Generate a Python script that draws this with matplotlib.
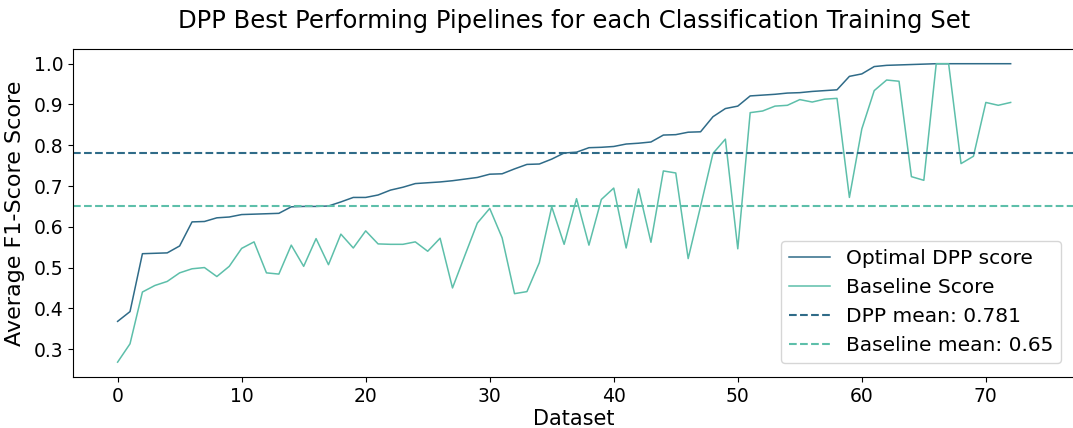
import matplotlib.pyplot as plt
import numpy as np

# Average F1 per classification training set, sorted by DPP score
datasets = np.arange(73)
dpp_scores = [
    0.368, 0.392, 0.534, 0.535, 0.536, 0.553, 0.612, 0.613, 0.622, 0.624,
    0.630, 0.631, 0.632, 0.633, 0.649, 0.650, 0.650, 0.651, 0.661, 0.672,
    0.672, 0.678, 0.690, 0.697, 0.706, 0.708, 0.710, 0.713, 0.717, 0.721,
    0.729, 0.730, 0.742, 0.753, 0.754, 0.766, 0.781, 0.783, 0.794, 0.795,
    0.797, 0.803, 0.805, 0.808, 0.825, 0.826, 0.832, 0.833, 0.870, 0.890,
    0.896, 0.921, 0.923, 0.925, 0.928, 0.929, 0.932, 0.934, 0.936, 0.969,
    0.975, 0.993, 0.996, 0.997, 0.998, 0.999, 1.0, 1.0, 1.0, 1.0,
    1.0, 1.0, 1.0,
]
baseline_scores = [
    0.268, 0.313, 0.440, 0.456, 0.466, 0.487, 0.497, 0.500, 0.478, 0.503,
    0.547, 0.563, 0.487, 0.484, 0.555, 0.503, 0.571, 0.507, 0.582, 0.548,
    0.590, 0.558, 0.557, 0.557, 0.563, 0.540, 0.572, 0.450, 0.530, 0.609,
    0.645, 0.573, 0.436, 0.441, 0.512, 0.649, 0.557, 0.669, 0.555, 0.667,
    0.695, 0.548, 0.693, 0.562, 0.737, 0.732, 0.522, 0.650, 0.780, 0.815,
    0.546, 0.880, 0.884, 0.896, 0.898, 0.912, 0.906, 0.913, 0.915, 0.672,
    0.840, 0.934, 0.960, 0.957, 0.723, 0.714, 1.0, 1.0, 0.755, 0.773,
    0.905, 0.898, 0.905,
]
dpp_mean = 0.781
baseline_mean = 0.65
y_ticks = [0.3, 0.4, 0.5, 0.6, 0.7, 0.8, 0.9, 1.0]

dark = '#2f6b88'
light = '#5dbfaa'

fig = plt.figure(figsize=(10.73, 4.28), dpi=100)
ax = fig.add_axes([0.068, 0.119, 0.934, 0.767])

ax.plot(datasets, dpp_scores, color=dark, lw=1.1, label='Optimal DPP score')
ax.plot(datasets, baseline_scores, color=light, lw=1.1, label='Baseline Score')
ax.axhline(dpp_mean, color=dark, ls='--', lw=1.5, label=f'DPP mean: {dpp_mean}')
ax.axhline(baseline_mean, color=light, ls='--', lw=1.5, label=f'Baseline mean: {baseline_mean}')

ax.set_xlim(-3.6, 77.2)
ax.set_xticks(range(0, 71, 10))
ax.set_yticks(y_ticks)
ax.tick_params(labelsize=13.5)
ax.set_xlabel('Dataset', fontsize=15, labelpad=2)
ax.set_ylabel('Average F1-Score Score', fontsize=16, labelpad=6)
ax.set_title('DPP Best Performing Pipelines for each Classification Training Set',
             fontsize=17.5, pad=15)
ax.legend(loc='lower right', fontsize=14.5, borderaxespad=0.7)

fig.savefig('out.png', dpi=100)
